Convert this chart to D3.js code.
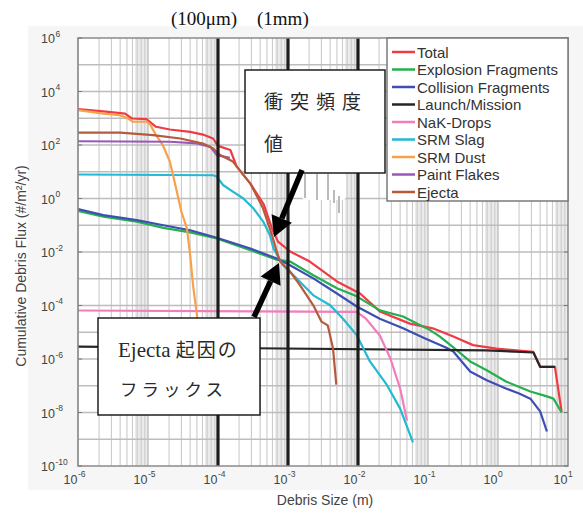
<!DOCTYPE html>
<html>
<head>
<meta charset="utf-8">
<script src="https://d3js.org/d3.v7.min.js"></script>
<style>
	body { margin: 0; background: #fff; }
	svg { display: block; }
</style>
</head>
<body>
<svg id="chart" width="583" height="515"></svg>
<script>
// each series: [debris size (m), cumulative flux (#/m2/yr)]
var total = [[1e-6, 2.2e3], [2.3e-6, 1.8e3], [4.7e-6, 1.5e3], [5.9e-6, 980], [9.5e-6, 920], [1.3e-5, 480],
	[2.05e-5, 380], [4.0e-5, 310], [6.1e-5, 245], [8.5e-5, 175], [1.0e-4, 93], [1.5e-4, 65], [1.85e-4, 15.5],
	[2.9e-4, 3.6], [4.5e-4, 0.6], [5.9e-4, 0.076], [7.2e-4, 0.0245], [1.07e-3, 0.0105], [2.05e-3, 4.4e-3],
	[5.0e-3, 7.9e-4], [1.07e-2, 2.8e-4], [2.05e-2, 6.0e-5], [5.5e-2, 2.1e-5], [0.117, 1.4e-5], [0.23, 6.9e-6],
	[0.44, 3.3e-6], [0.95, 2.45e-6], [3.2, 1.85e-6], [4.0, 5.1e-7], [6.5, 5.1e-7], [8.1, 1.07e-8]];
var explosion = [[1e-6, 0.34], [2.3e-6, 0.21], [6.9e-6, 0.135], [1.66e-5, 0.08], [4.0e-5, 0.054], [9.6e-5, 0.032],
	[2.9e-4, 0.0117], [6.9e-4, 5.2e-3], [1.07e-3, 4.4e-3], [2.3e-3, 1.35e-3], [5.0e-3, 4.4e-4], [9.6e-3, 2.2e-4],
	[2.05e-2, 6.6e-5], [4.4e-2, 3.9e-5], [0.107, 1.2e-5], [0.148, 6.9e-6], [0.23, 2.7e-6], [0.4, 8.1e-7],
	[0.69, 3.8e-7], [1.3, 1.44e-7], [2.9, 6.1e-8], [5.0, 4.0e-8], [6.2, 3.3e-8], [8.1, 1.0e-8]];
var collision = [[1e-6, 0.40], [2.3e-6, 0.24], [6.9e-6, 0.155], [1.66e-5, 0.1], [4.0e-5, 0.065], [9.6e-5, 0.034],
	[2.9e-4, 0.0135], [6.9e-4, 5.7e-3], [1.07e-3, 3.2e-3], [2.3e-3, 1.03e-3], [5.0e-3, 2.8e-4], [9.6e-3, 9.2e-5],
	[2.05e-2, 3.2e-5], [4.4e-2, 1.4e-5], [0.091, 5.9e-6], [0.18, 2.7e-6], [0.23, 1.9e-6], [0.4, 3.4e-7],
	[0.69, 1.6e-7], [1.3, 7.9e-8], [2.0, 5.1e-8], [2.9, 3.3e-8], [4.0, 1.1e-8], [5.0, 1.95e-9]];
var launch = [[1e-6, 2.9e-6], [0.69, 2.1e-6], [3.2, 1.75e-6], [4.0, 5.1e-7], [6.5, 5.1e-7]];
var nakDrops = [[1e-6, 6.5e-5], [9.6e-3, 5.8e-5], [1.3e-2, 3.2e-5], [2.05e-2, 7.6e-6], [2.9e-2, 1.05e-6],
	[4.0e-2, 7.9e-8], [5.0e-2, 5e-9]];
var srmSlag = [[1e-6, 7.9], [8.5e-5, 7.4], [9.6e-5, 6.6], [1.18e-4, 3.2], [1.63e-4, 1.8], [2.3e-4, 1.0],
	[3.2e-4, 0.43], [4.4e-4, 0.14], [5.5e-4, 0.043], [6.2e-4, 0.0135], [8.5e-4, 3.2e-3], [1.33e-3, 1.03e-3],
	[2.3e-3, 2.4e-4], [4.0e-3, 1.02e-4], [6.1e-3, 3.2e-5], [9.6e-3, 7.8e-6], [1.48e-2, 8.1e-7], [2.6e-2, 1.05e-7],
	[4.0e-2, 1.4e-8], [6.1e-2, 7.6e-10]];
var srmDust = [[1e-6, 2.0e3], [2.3e-6, 1.5e3], [4.0e-6, 1.3e3], [5.2e-6, 980], [6.1e-6, 740], [9.6e-6, 740],
	[1.07e-5, 590], [1.3e-5, 235], [1.63e-5, 98], [2.05e-5, 24], [2.43e-5, 3.6], [3.0e-5, 0.32], [3.6e-5, 0.076],
	[4.0e-5, 7.6e-3], [4.4e-5, 5.8e-4], [5.0e-5, 4.4e-5], [5.2e-5, 1.4e-5]];
var paintFlakes = [[1e-6, 138], [2.05e-5, 132], [5.0e-5, 115], [7.8e-5, 85], [9.6e-5, 42], [1.48e-4, 33]];
var ejecta = [[1e-6, 290], [4e-6, 290], [1.18e-5, 235], [2.9e-5, 175], [6.1e-5, 114], [8.5e-5, 74], [1.07e-4, 42],
	[1.63e-4, 24], [2.9e-4, 3.6], [4.4e-4, 0.43], [5.9e-4, 0.043], [6.9e-4, 0.0105], [7.7e-4, 4.4e-3],
	[1.07e-3, 1.86e-3], [1.48e-3, 5.8e-4], [2.3e-3, 1.02e-4], [3.0e-3, 2.5e-5], [3.7e-3, 1.8e-5], [4.4e-3, 2.45e-6],
	[4.9e-3, 1.1e-7]];

var seriesNames = ["Total", "Explosion Fragments", "Collision Fragments", "Launch/Mission", "NaK-Drops",
	"SRM Slag", "SRM Dust", "Paint Flakes", "Ejecta"];
var seriesColors = ["#ee3b45", "#25b04f", "#3d4fb2", "#262626", "#f27cbc", "#22b9d2", "#f7a24a", "#9a57b9", "#b65a3c"];
var seriesData = [total, explosion, collision, launch, nakDrops, srmSlag, srmDust, paintFlakes, ejecta];

var xTickExps = [-6, -5, -4, -3, -2, -1, 0, 1];
var yTickExps = [6, 4, 2, 0, -2, -4, -6, -8, -10];
var markedSizes = [1e-4, 1e-3, 1e-2];

var svg = d3.select("#chart"),
	pL = 78, pR = 568, pT = 38, pB = 466;

var x = d3.scaleLog().domain([1e-6, 10]).range([pL, pR]),
	y = d3.scaleLog().domain([1e-10, 1e6]).range([pB, pT]);

// faint figure background
svg.append("rect").attr("x", 28).attr("y", 26).attr("width", 555).attr("height", 464).attr("fill", "#f6f6f6");
svg.append("rect").attr("x", pL).attr("y", pT).attr("width", pR - pL).attr("height", pB - pT)
	.attr("fill", "#fff");

var grid = svg.append("g");
// dense minor lines look like grey bands near the end of each decade
for (var e = -6; e < 1; e++) {
	grid.append("rect")
		.attr("x", x(6.5 * Math.pow(10, e)))
		.attr("y", pT)
		.attr("width", x(Math.pow(10, e + 1)) - x(6.5 * Math.pow(10, e)))
		.attr("height", pB - pT)
		.attr("fill", "#ebebeb");
	for (var m = 1; m < 10; m++) {
		grid.append("line")
			.attr("x1", x(m * Math.pow(10, e))).attr("x2", x(m * Math.pow(10, e)))
			.attr("y1", pT).attr("y2", pB)
			.attr("stroke", m == 1 ? "#b0b0b0" : "#cbcbcb")
			.attr("stroke-width", 1.1);
	}
}
for (var e = -9; e < 6; e++) {
	grid.append("line")
		.attr("x1", pL).attr("x2", pR)
		.attr("y1", y(Math.pow(10, e))).attr("y2", y(Math.pow(10, e)))
		.attr("stroke", "#bdbdbd")
		.attr("stroke-width", 1.3);
}

var line = d3.line()
	.x(function(d) { return x(d[0]); })
	.y(function(d) { return y(d[1]); });

svg.append("g").selectAll("path")
	.data(seriesData)
	.enter().append("path")
	.attr("d", line)
	.attr("fill", "none")
	.attr("stroke", function(d, i) { return seriesColors[i]; })
	.attr("stroke-width", 2.2)
	.attr("stroke-linejoin", "round");

// thick marker lines at 100um, 1mm, 1cm
svg.append("g").selectAll("line")
	.data(markedSizes)
	.enter().append("line")
	.attr("x1", function(d) { return x(d); })
	.attr("x2", function(d) { return x(d); })
	.attr("y1", pT).attr("y2", pB)
	.attr("stroke", "#1c1c1c")
	.attr("stroke-width", 3.2);

// frame + ticks
svg.append("rect").attr("x", pL).attr("y", pT).attr("width", pR - pL).attr("height", pB - pT)
	.attr("fill", "none").attr("stroke", "#8a8a8a").attr("stroke-width", 1.5);

var ticks = svg.append("g").attr("stroke", "#777");
yTickExps.forEach(function(ex) {
	var yy = y(Math.pow(10, ex));
	ticks.append("line").attr("x1", pL).attr("x2", pL + 4).attr("y1", yy).attr("y2", yy);
	ticks.append("line").attr("x1", pR - 4).attr("x2", pR).attr("y1", yy).attr("y2", yy);
});

var labels = svg.append("g")
	.attr("font-family", "Liberation Sans, Arial, sans-serif")
	.attr("fill", "#444");

yTickExps.forEach(function(ex) {
	var yy = y(Math.pow(10, ex));
	labels.append("text").attr("x", 55).attr("y", yy + 5).attr("text-anchor", "end")
		.attr("font-size", 12.5).text("10");
	labels.append("text").attr("x", 55.5).attr("y", yy - 1.5).attr("font-size", 8.5).text(String(ex));
});
xTickExps.forEach(function(ex) {
	var xx = x(Math.pow(10, ex));
	labels.append("text").attr("x", xx - 0.5).attr("y", 484).attr("text-anchor", "end")
		.attr("font-size", 12.5).text("10");
	labels.append("text").attr("x", xx).attr("y", 477).attr("font-size", 8.5).text(String(ex));
});

labels.append("text")
	.attr("x", (pL + pR) / 2 + 2).attr("y", 505)
	.attr("text-anchor", "middle").attr("font-size", 14)
	.text("Debris Size (m)");
labels.append("text")
	.attr("transform", "translate(26,266) rotate(-90)")
	.attr("text-anchor", "middle").attr("font-size", 14)
	.text("Cumulative Debris Flux (#/m\u00b2/yr)");

// legend
var legend = svg.append("g");
legend.append("rect").attr("x", 387).attr("y", pT).attr("width", pR - 387).attr("height", 163)
	.attr("fill", "#fff").attr("stroke", "#7a7a7a").attr("stroke-width", 1.5);
var items = legend.selectAll(".item")
	.data(seriesNames)
	.enter().append("g")
	.attr("class", "item")
	.attr("transform", function(d, i) { return "translate(0," + (52 + i * 17.5) + ")"; });
items.append("line")
	.attr("x1", 392).attr("x2", 415)
	.attr("stroke", function(d, i) { return seriesColors[i]; })
	.attr("stroke-width", 2.5);
items.append("text")
	.attr("x", 417).attr("y", 5.5)
	.attr("font-family", "Liberation Sans, Arial, sans-serif")
	.attr("font-size", 15)
	.attr("fill", "#333")
	.text(function(d) { return d; });

// annotations
svg.append("text").attr("x", 171).attr("y", 25)
	.attr("font-family", "Liberation Serif, serif").attr("font-size", 19).attr("fill", "#111")
	.text("(100\u03bcm)");
svg.append("text").attr("x", 257).attr("y", 25)
	.attr("font-family", "Liberation Serif, serif").attr("font-size", 19).attr("fill", "#111")
	.text("(1mm)");

// scan leftovers under the upper box
svg.append("rect").attr("x", 302).attr("y", 173).attr("width", 44).attr("height", 27).attr("rx", 4).attr("fill", "#fff");
var ghost = svg.append("g").attr("stroke", "#777").attr("stroke-width", 1);
[[305, 174, 198], [317, 174, 200], [328, 174, 200], [334, 190, 203], [339, 196, 213]].forEach(function(g) {
	ghost.append("line").attr("x1", g[0]).attr("x2", g[0]).attr("y1", g[1]).attr("y2", g[2]);
});

function box(x0, y0, w, h) {
	svg.append("rect").attr("x", x0).attr("y", y0).attr("width", w).attr("height", h)
		.attr("fill", "#fff").attr("stroke", "#111").attr("stroke-width", 1.4);
}
box(245, 70, 140, 103);
box(98, 318, 162, 97);

var jp = svg.append("g").attr("fill", "#2a2a2a").attr("font-family", "Noto Sans CJK JP, sans-serif");
jp.append("text").attr("x", 264).attr("y", 109).attr("font-size", 19).attr("letter-spacing", 7).text("衝突頻度");
jp.append("text").attr("x", 264).attr("y", 151).attr("font-size", 19).text("値");
var ej = jp.append("text").attr("x", 118).attr("y", 357).attr("font-size", 19);
ej.append("tspan").attr("font-family", "Liberation Serif, serif").attr("font-size", 21).text("Ejecta ");
ej.append("tspan").attr("letter-spacing", 2).text("起因の");
jp.append("text").attr("x", 120).attr("y", 396).attr("font-size", 17.5).attr("letter-spacing", 4).text("フラックス");

function arrow(x0, y0, x1, y1) {
	var dx = x1 - x0, dy = y1 - y0, len = Math.sqrt(dx * dx + dy * dy);
	var ux = dx / len, uy = dy / len, hl = 20, hw = 11;
	var bx = x1 - ux * hl, by = y1 - uy * hl;
	svg.append("line").attr("x1", x0).attr("y1", y0).attr("x2", bx).attr("y2", by)
		.attr("stroke", "#000").attr("stroke-width", 5.5);
	svg.append("polygon")
		.attr("points", [[x1, y1], [bx - uy * hw, by + ux * hw], [bx + uy * hw, by - ux * hw]].join(" "))
		.attr("fill", "#000");
}
arrow(302, 170, 274, 237);
arrow(254, 317, 279, 263);
</script>
</body>
</html>
